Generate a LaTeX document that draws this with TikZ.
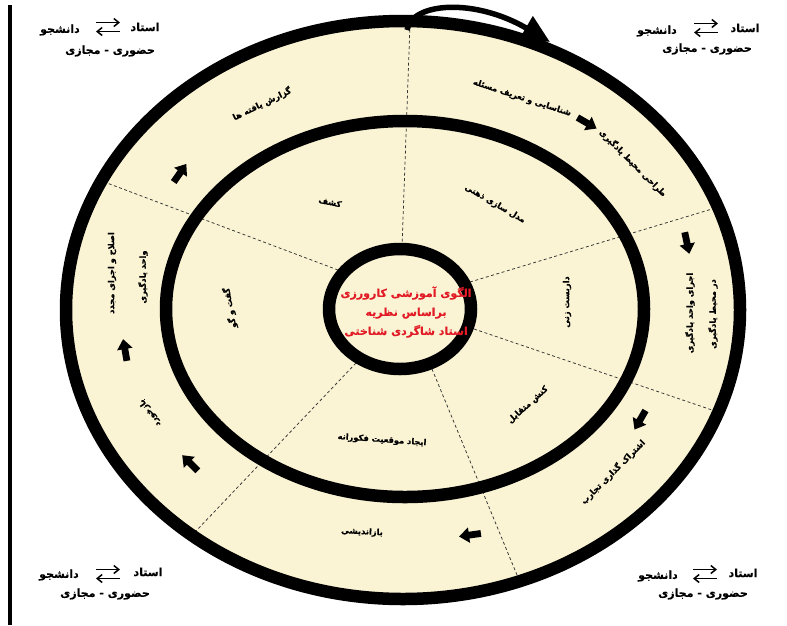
\documentclass[tikz,border=0pt]{standalone}
\usepackage{fontspec}
\newfontfamily\fa[Script=Arabic, BoldFeatures={FakeBold=0.6}]{DejaVu Sans}
\TeXXeTstate=1
\usetikzlibrary{arrows.meta}
\definecolor{cream}{RGB}{250,244,212}
\definecolor{redtxt}{RGB}{226,28,38}
\newcommand\RL[1]{\beginR #1\endR}
\begin{document}
\begin{tikzpicture}[x=1pt,y=-1pt,
  ring/.style={line width=12.5pt, draw=black},
  divider/.style={draw=black!80, line width=0.75pt, dash pattern=on 3pt off 2.5pt},
  rtext/.style={font=\fa\bfseries\fontsize{8.3}{10}\selectfont, inner sep=0pt},
  ctext/.style={font=\fa\bfseries\fontsize{11}{19}\selectfont, text=redtxt, align=center, inner sep=0pt},
  corner/.style={font=\fa\bfseries\fontsize{11}{13}\selectfont, inner sep=0pt},
  swaparrow/.style={line width=1.5pt, -{Straight Barb[length=5pt,width=8pt]}},
  blockarrow/.pic={\fill[black] (-11,-3.4) -- (1,-3.4) -- (1,-7.8) -- (11,0) -- (1,7.8) -- (1,3.4) -- (-11,3.4) -- cycle;},
]
\useasboundingbox (0,0) rectangle (787,625);
\fill[white] (0,0) rectangle (787,625);
\draw[line width=4pt] (10,5) -- (10,625);

\coordinate (C) at (403,310);
\coordinate (M) at (405,309);
\coordinate (I) at (400,309);

\fill[cream] (C) ellipse [x radius=343pt, y radius=295pt];

% dividers
\coordinate (d1a) at (402,247); \coordinate (d1b) at (410,24);
\coordinate (d2a) at (470,282); \coordinate (d2b) at (712,209);
\coordinate (d3a) at (474,329); \coordinate (d3b) at (712,410);
\coordinate (d4a) at (432,369); \coordinate (d4b) at (517,575);
\coordinate (d5a) at (356,363); \coordinate (d5b) at (196,531);
\coordinate (d6a) at (338,270); \coordinate (d6b) at (107,183);
\foreach \i in {1,...,6} {\draw[divider] (d\i a) -- (d\i b);}

% rings
\draw[ring] (C) ellipse [x radius=337pt, y radius=289pt];
\draw[ring] (M) ellipse [x radius=239pt, y radius=188pt];
\draw[ring, fill=cream] (I) ellipse [x radius=71pt, y radius=60pt];

% centre title
\node[ctext] (title) at (406,312) {\RL{الگوی آموزشی کارورزی}\\\RL{براساس نظریه}\\\RL{استاد شاگردی شناختی}};

% outer ring texts
\node[rtext, rotate=26] (t1) at (262,104) {\RL{گزارش یافته ها}};
\node[rtext, rotate=-18] (t2) at (522,98) {\RL{شناسایی و تعریف مسئله}};
\node[rtext, rotate=-45] (t3) at (633,163) {\RL{طراحی محیط یادگیری}};
\node[rtext, rotate=90] (t4a) at (690,313) {\RL{اجرای واحد یادگیری}};
\node[rtext, rotate=90] (t4b) at (713,314) {\RL{در محیط یادگیری}};
\node[rtext, rotate=45] (t5) at (613,472) {\RL{اشتراک گذاری تجارب}};
\node[rtext, rotate=-3] (t6) at (362,532) {\RL{بازاندیشی}};
\node[rtext, rotate=125] (t7) at (150,413) {\RL{بازخورد}};
\node[rtext, rotate=90] (t8a) at (112,273) {\RL{اصلاح و اجرای مجدد}};
\node[rtext, rotate=90] (t8b) at (143,277) {\RL{واحد یادگیری}};

% middle ring texts
\node[rtext, rotate=-12] (m1) at (330,202) {\RL{کشف}};
\node[rtext, rotate=-30] (m2) at (495,204) {\RL{مدل سازی ذهنی}};
\node[rtext, rotate=90] (m3) at (567,302) {\RL{داربست زنی}};
\node[rtext, rotate=42] (m4) at (528,405) {\RL{کنش متقابل}};
\node[rtext, rotate=-4] (m5) at (382,440) {\RL{ایجاد موقعیت فکورانه}};
\node[rtext, rotate=100] (m6) at (230,308) {\RL{گفت و گو}};

% block arrows
\pic[rotate=-30] at (587,123) {blockarrow};
\pic[rotate=-78] at (687,243) {blockarrow};
\pic[rotate=-120] at (640,420) {blockarrow};
\pic[rotate=188] at (470,535) {blockarrow};
\pic[rotate=135] at (190,463) {blockarrow};
\pic[rotate=100] at (125,350) {blockarrow};
\pic[rotate=55] at (180,173) {blockarrow};

% big curved arrow on top
\coordinate (ba1) at (407,30);
\coordinate (ba2) at (550,42);
\draw[line width=5.5pt, -{Triangle[length=28pt,width=26pt]}] (ba1) .. controls (412,2) and (475,-2) .. (ba2);

% corner labels
\foreach \n/\ox/\oy/\dx/\dy/\ax/\ay/\hx/\hy in {
  tl/145/27/60/30/108/27/110/51,
  tr/745/28/657/31/706/28/707/49,
  bl/148/572/59/575/108/574/105/594,
  br/743/573/658/576/705/574/703/594} {
  \node[corner] (\n ost) at (\ox,\oy) {\RL{استاد}};
  \node[corner] (\n dan) at (\dx,\dy) {\RL{دانشجو}};
  \node[corner] (\n mode) at (\hx,\hy) {\RL{حضوری - مجازی}};
  \coordinate (\n a1) at (\ax-12,\ay-4.5);
  \coordinate (\n a2) at (\ax+12,\ay-4.5);
  \coordinate (\n b1) at (\ax-12,\ay+4.5);
  \coordinate (\n b2) at (\ax+12,\ay+4.5);
  \draw[swaparrow] (\n a1) -- (\n a2);
  \draw[swaparrow] (\n b2) -- (\n b1);
}
\end{tikzpicture}
\end{document}
